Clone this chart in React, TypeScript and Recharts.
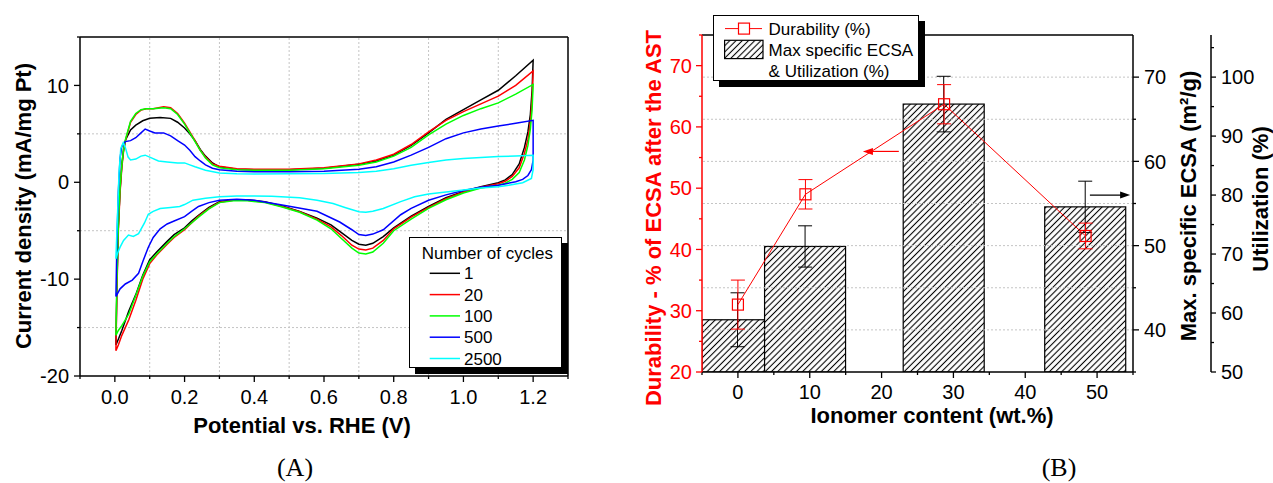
import React from "react";
import {
  ComposedChart,
  Line,
  Bar,
  XAxis,
  YAxis,
  ReferenceLine,
  ErrorBar,
} from "recharts";

const FONT = "'Liberation Sans', Arial, Helvetica, sans-serif";

// ---------- Panel A: CV curves, [potential V, current density mA/mg Pt] in sweep order
const cycleNames = ["1", "20", "100", "500", "2500"];
const cycleColors = ["#000000", "#ff0000", "#00ff00", "#0000ff", "#00ffff"];

const cycle1: [number, number][] = [
  [0.003, -16.8], [0.006, -10.5], [0.01, -4.5], [0.015, -0.8], [0.02, 1.8], [0.025, 3.4],
  [0.031, 4.4], [0.045, 5.4], [0.06, 5.9], [0.08, 6.35], [0.1, 6.6], [0.13, 6.7], [0.16, 6.6],
  [0.18, 6.2], [0.2, 5.6], [0.215, 5.0], [0.23, 4.3], [0.245, 3.4], [0.26, 2.7], [0.28, 2.0],
  [0.3, 1.6], [0.35, 1.35], [0.4, 1.3], [0.5, 1.3], [0.6, 1.45], [0.7, 1.85], [0.75, 2.2],
  [0.8, 2.8], [0.85, 3.8], [0.9, 5.1], [0.95, 6.5], [1.0, 7.5], [1.05, 8.5], [1.1, 9.5],
  [1.15, 11.0], [1.2, 12.6],
  [1.197, 9.5], [1.192, 7.0], [1.185, 5.2], [1.175, 3.6], [1.16, 1.9], [1.14, 0.8], [1.12, 0.25],
  [1.1, -0.05], [1.05, -0.45], [1.0, -0.95], [0.95, -1.6], [0.9, -2.5], [0.85, -3.5], [0.8, -4.7],
  [0.77, -5.6], [0.74, -6.3], [0.72, -6.5], [0.7, -6.4], [0.68, -6.0], [0.65, -5.2], [0.62, -4.4],
  [0.58, -3.7], [0.53, -3.0], [0.48, -2.45], [0.43, -2.0], [0.38, -1.8], [0.34, -1.8], [0.3, -2.0],
  [0.27, -2.6], [0.24, -3.4], [0.22, -4.0], [0.2, -4.7], [0.17, -5.4], [0.15, -6.1], [0.12, -7.2],
  [0.1, -8.0], [0.08, -9.6], [0.06, -11.6], [0.04, -13.3], [0.02, -15.3], [0.01, -16.2], [0.003, -16.8],
];

const cycle20: [number, number][] = [
  [0.003, -17.4], [0.006, -11], [0.01, -5], [0.015, -1], [0.02, 1.5], [0.025, 3.2], [0.031, 4.4],
  [0.045, 6.2], [0.06, 7.0], [0.075, 7.45], [0.09, 7.6], [0.11, 7.6], [0.14, 7.8], [0.16, 7.7],
  [0.18, 7.1], [0.2, 6.1], [0.215, 5.2], [0.23, 4.3], [0.245, 3.3], [0.26, 2.6], [0.28, 1.9],
  [0.3, 1.65], [0.35, 1.4], [0.4, 1.35], [0.5, 1.35], [0.6, 1.5], [0.7, 1.9], [0.75, 2.3],
  [0.8, 2.9], [0.85, 3.9], [0.9, 5.2], [0.95, 6.4], [1.0, 7.3], [1.05, 8.1], [1.1, 8.9],
  [1.15, 10.0], [1.2, 11.5],
  [1.197, 8.5], [1.192, 6.2], [1.185, 4.4], [1.175, 3.0], [1.16, 1.5], [1.14, 0.6], [1.12, 0.1],
  [1.1, -0.15], [1.05, -0.5], [1.0, -1.0], [0.95, -1.7], [0.9, -2.6], [0.85, -3.6], [0.8, -4.8],
  [0.77, -6.0], [0.74, -6.8], [0.72, -7.0], [0.7, -6.9], [0.68, -6.5], [0.65, -5.5], [0.62, -4.6],
  [0.58, -3.8], [0.53, -3.05], [0.48, -2.5], [0.43, -2.05], [0.38, -1.85], [0.34, -1.85], [0.3, -2.05],
  [0.27, -2.7], [0.24, -3.5], [0.22, -4.2], [0.2, -4.9], [0.17, -5.7], [0.15, -6.4], [0.12, -7.5],
  [0.1, -8.4], [0.08, -10.0], [0.06, -12.2], [0.04, -14.2], [0.02, -15.8], [0.01, -16.8], [0.003, -17.4],
];

const cycle100: [number, number][] = [
  [0.003, -15.8], [0.006, -10], [0.01, -4.5], [0.015, -0.5], [0.02, 1.8], [0.025, 3.4], [0.031, 4.5],
  [0.045, 6.3], [0.06, 7.1], [0.075, 7.5], [0.09, 7.6], [0.11, 7.6], [0.14, 7.7], [0.16, 7.6],
  [0.18, 7.0], [0.2, 6.0], [0.215, 5.1], [0.23, 4.2], [0.245, 3.3], [0.26, 2.5], [0.28, 1.8],
  [0.3, 1.5], [0.35, 1.3], [0.4, 1.25], [0.5, 1.25], [0.6, 1.4], [0.7, 1.75], [0.75, 2.1],
  [0.8, 2.7], [0.85, 3.6], [0.9, 4.9], [0.95, 6.0], [1.0, 6.9], [1.05, 7.6], [1.1, 8.2],
  [1.15, 9.1], [1.2, 10.1],
  [1.197, 7.5], [1.192, 5.5], [1.185, 3.8], [1.175, 2.3], [1.16, 1.0], [1.14, 0.3], [1.12, -0.1],
  [1.1, -0.3], [1.05, -0.6], [1.0, -1.1], [0.95, -1.8], [0.9, -2.7], [0.85, -3.8], [0.8, -5.0],
  [0.77, -6.3], [0.74, -7.2], [0.72, -7.4], [0.7, -7.3], [0.68, -6.8], [0.65, -5.8], [0.62, -4.8],
  [0.58, -3.9], [0.53, -3.1], [0.48, -2.55], [0.43, -2.1], [0.38, -1.9], [0.34, -1.9], [0.3, -2.1],
  [0.27, -2.75], [0.24, -3.6], [0.22, -4.2], [0.2, -4.8], [0.17, -5.6], [0.15, -6.3], [0.12, -7.4],
  [0.1, -8.2], [0.08, -9.7], [0.06, -11.7], [0.04, -13.6], [0.02, -14.8], [0.01, -15.3], [0.003, -15.8],
];

const cycle500: [number, number][] = [
  [0.003, -11.8], [0.006, -6], [0.01, -1], [0.015, 2.5], [0.02, 3.7], [0.03, 4.2], [0.045, 4.3],
  [0.06, 4.6], [0.075, 5.1], [0.087, 5.5], [0.1, 5.3], [0.115, 5.1], [0.14, 5.1], [0.16, 4.8],
  [0.18, 4.3], [0.2, 3.85], [0.215, 3.3], [0.23, 2.65], [0.245, 2.2], [0.26, 1.8], [0.28, 1.45],
  [0.3, 1.3], [0.35, 1.15], [0.4, 1.1], [0.5, 1.1], [0.6, 1.15], [0.7, 1.35], [0.75, 1.6],
  [0.8, 2.1], [0.85, 2.8], [0.9, 3.6], [0.95, 4.5], [1.0, 5.1], [1.05, 5.5], [1.1, 5.8],
  [1.15, 6.1], [1.2, 6.4],
  [1.2, 2.3], [1.195, 1.3], [1.185, 0.7], [1.17, 0.3], [1.15, 0.05], [1.1, -0.3], [1.05, -0.5],
  [1.0, -0.85], [0.95, -1.3], [0.9, -1.85], [0.85, -2.7], [0.82, -3.35], [0.77, -4.9], [0.74, -5.35],
  [0.72, -5.5], [0.7, -5.4], [0.68, -4.9], [0.645, -4.1], [0.58, -3.0], [0.48, -2.35], [0.4, -1.85],
  [0.35, -1.75], [0.3, -1.85], [0.27, -2.1], [0.24, -2.5], [0.22, -3.0], [0.2, -3.55], [0.17, -4.0],
  [0.15, -4.3], [0.13, -4.8], [0.11, -5.7], [0.096, -6.7], [0.08, -8.2], [0.068, -9.4], [0.05, -10.1],
  [0.03, -10.5], [0.015, -11.0], [0.003, -11.8],
];

const cycle2500: [number, number][] = [
  [0.003, -7.9], [0.008, -3], [0.012, 1], [0.017, 3.5], [0.024, 4.1], [0.03, 3.6], [0.038, 2.6],
  [0.045, 2.3], [0.06, 2.4], [0.075, 2.7], [0.087, 2.8], [0.1, 2.6], [0.125, 2.2], [0.15, 2.1],
  [0.18, 2.0], [0.2, 2.0], [0.215, 1.8], [0.23, 1.6], [0.26, 1.25], [0.3, 0.95], [0.35, 0.87],
  [0.4, 0.85], [0.5, 0.87], [0.6, 0.9], [0.7, 1.0], [0.75, 1.15], [0.8, 1.4], [0.85, 1.75],
  [0.9, 2.05], [0.95, 2.3], [1.0, 2.45], [1.05, 2.55], [1.1, 2.65], [1.15, 2.72], [1.2, 2.8],
  [1.2, 1.3], [1.195, 0.4], [1.17, -0.04], [1.13, -0.3], [1.1, -0.45], [1.05, -0.6], [1.0, -0.8],
  [0.95, -1.0], [0.9, -1.2], [0.86, -1.5], [0.82, -2.0], [0.77, -2.7], [0.74, -3.0], [0.72, -3.1],
  [0.7, -3.05], [0.66, -2.6], [0.626, -2.2], [0.58, -1.85], [0.53, -1.6], [0.45, -1.45], [0.39, -1.42],
  [0.35, -1.42], [0.3, -1.5], [0.26, -1.65], [0.224, -1.85], [0.2, -2.3], [0.186, -2.5], [0.16, -2.6],
  [0.13, -2.7], [0.11, -3.0], [0.096, -3.3], [0.085, -4.2], [0.068, -5.3], [0.053, -5.6], [0.039, -5.45],
  [0.025, -6.0], [0.015, -6.7], [0.008, -7.3], [0.003, -7.9],
];

const cycles = [cycle1, cycle20, cycle100, cycle500, cycle2500];

const potentialTicks = [-0.1, 0, 0.1, 0.2, 0.3, 0.4, 0.5, 0.6, 0.7, 0.8, 0.9, 1.0, 1.1, 1.2, 1.3];
const currentTicks = [-20, -15, -10, -5, 0, 5, 10, 15];
const potentialGrid = [0.1, 0.3, 0.5, 0.7, 0.9, 1.1];
const currentGrid = [-15, -5, 5];

// ---------- Panel B: ionomer content study
const ionomer = [0, 9.4, 28.7, 48.4];
const durability = [31.0, 49.0, 63.7, 42.2];
const durabilityErr = [4.0, 2.4, 3.2, 2.1];
const ecsa = [41.2, 49.9, 66.8, 54.6];
const ecsaErr = [3.2, 2.45, 3.3, 3.05];

const ionomerTicks = [-5, 0, 5, 10, 15, 20, 25, 30, 35, 40, 45, 50, 55];
const durabilityTicks = [20, 25, 30, 35, 40, 45, 50, 55, 60, 65, 70, 75];
const ecsaTicks = [35, 40, 45, 50, 55, 60, 65, 70];
const utilTicks = [50, 55, 60, 65, 70, 75, 80, 85, 90, 95, 100, 105];
const ecsaGrid = [40, 45, 50, 55, 60, 65, 70];

const barData = ionomer.map((x, i) => ({
  x,
  dur: durability[i],
  durErr: durabilityErr[i],
  ecsa: ecsa[i],
  ecsaErr: ecsaErr[i],
}));

const B_PLOT_LEFT = 62;
const BAR_W = 81;
const HATCH = 4.4;

type TickOpts = {
  side: "bottom" | "left" | "right";
  isMajor: (v: number) => boolean;
  fmt: (v: number) => string;
  color: string;
  major: number;
  minor: number;
  gap: number;
  fontSize: number;
};

const makeTick = (o: TickOpts) => (props: any) => {
  const { x, y, payload } = props;
  const v = payload.value;
  const big = o.isMajor(v);
  const len = big ? o.major : o.minor;
  if (o.side === "bottom") {
    return (
      <g>
        <line x1={x} y1={y} x2={x} y2={y + len} stroke={o.color} strokeWidth={1.3} />
        {big && (
          <text x={x} y={y + o.gap} textAnchor="middle" fontSize={o.fontSize} fontFamily={FONT} fill={o.color}>
            {o.fmt(v)}
          </text>
        )}
      </g>
    );
  }
  const dir = o.side === "left" ? -1 : 1;
  return (
    <g>
      <line x1={x} y1={y} x2={x + dir * len} y2={y} stroke={o.color} strokeWidth={1.3} />
      {big && (
        <text
          x={x + dir * (o.major + o.gap)}
          y={y}
          dy="0.36em"
          textAnchor={dir < 0 ? "end" : "start"}
          fontSize={o.fontSize}
          fontFamily={FONT}
          fill={o.color}
        >
          {o.fmt(v)}
        </text>
      )}
    </g>
  );
};

const tens = (v: number) => Math.abs(v % 10) < 1e-9;

const HatchBar = (props: any) => {
  const { x, y, width, height, index } = props;
  if (height == null || isNaN(height)) return null;
  const cx = x + width / 2;
  const left = Math.max(cx - BAR_W / 2, B_PLOT_LEFT);
  const right = cx + BAR_W / 2;
  const id = `hatch-bar-${index}`;
  return (
    <g>
      <defs>
        <pattern
          id={id}
          patternUnits="userSpaceOnUse"
          width={HATCH}
          height={HATCH}
          patternTransform={`rotate(45) translate(${index * 1.5},0)`}
        >
          <line x1={HATCH / 2} y1={0} x2={HATCH / 2} y2={HATCH} stroke="#000" strokeWidth={1.1} />
        </pattern>
      </defs>
      <rect x={left} y={y} width={right - left} height={height} fill="#fff" />
      <rect x={left} y={y} width={right - left} height={height} fill={`url(#${id})`} stroke="#000" strokeWidth={1.2} />
    </g>
  );
};

const arrowShape = (color: string) => (p: any) => {
  const { x1, y1, x2, y2 } = p;
  const dir = x2 > x1 ? 1 : -1;
  return (
    <g>
      <line x1={x1} y1={y1} x2={x2 - dir * 6} y2={y2} stroke={color} strokeWidth={1.2} />
      <polygon points={`${x2},${y2} ${x2 - dir * 10},${y2 - 3.5} ${x2 - dir * 10},${y2 + 3.5}`} fill={color} />
    </g>
  );
};

const SquareDot = (p: any) => {
  const { cx, cy, index } = p;
  if (cx == null || cy == null) return null;
  return <rect key={`sq-${index}`} x={cx - 5.5} y={cy - 5.5} width={11} height={11} fill="none" stroke="#ff0000" strokeWidth={1.2} />;
};

const axisText = (x: number, y: number, text: React.ReactNode, color = "#000", rotate = true) => () => (
  <text
    transform={rotate ? `translate(${x},${y}) rotate(-90)` : `translate(${x},${y})`}
    textAnchor="middle"
    dy="0.35em"
    fontSize={22}
    fontWeight="bold"
    fontFamily={FONT}
    fill={color}
  >
    {text}
  </text>
);

const CvPanel = () => (
  <ComposedChart width={600} height={440} margin={{ top: 37, right: 32, bottom: 0, left: 0 }}>
    <XAxis
      xAxisId={0}
      type="number"
      dataKey="v"
      domain={[-0.1, 1.3]}
      allowDataOverflow
      ticks={potentialTicks}
      interval={0}
      tickSize={0}
      tickMargin={0}
      tickLine={false}
      axisLine={{ stroke: "#000", strokeWidth: 1.5 }}
      height={64}
      tick={makeTick({
        side: "bottom",
        isMajor: (v) => Math.abs(Math.round(v * 10) % 2) === 0,
        fmt: (v) => v.toFixed(1),
        color: "#000",
        major: 6,
        minor: 3,
        gap: 28,
        fontSize: 20,
      })}
      label={{ content: axisText(302, 425, "Potential vs. RHE (V)", "#000", false) }}
    />
    <YAxis
      yAxisId={0}
      type="number"
      domain={[-20, 15]}
      allowDataOverflow
      ticks={currentTicks}
      interval={0}
      tickSize={0}
      tickMargin={0}
      tickLine={false}
      axisLine={{ stroke: "#000", strokeWidth: 1.5 }}
      width={80}
      tick={makeTick({
        side: "left",
        isMajor: tens,
        fmt: (v) => String(v),
        color: "#000",
        major: 6,
        minor: 3,
        gap: 5,
        fontSize: 20,
      })}
      label={{ content: axisText(23, 206, "Current density (mA/mg Pt)") }}
    />
    {potentialGrid.map((v) => (
      <ReferenceLine key={`gx${v}`} x={v} stroke="#c4c4c4" strokeDasharray="2 2" strokeWidth={1} />
    ))}
    {currentGrid.map((v) => (
      <ReferenceLine key={`gy${v}`} y={v} stroke="#c4c4c4" strokeDasharray="2 2" strokeWidth={1} />
    ))}
    <ReferenceLine y={15} stroke="#000" strokeWidth={1.5} />
    <ReferenceLine x={1.3} stroke="#000" strokeWidth={1.5} />
    {cycles.map((c, i) => (
      <Line
        key={cycleNames[i]}
        data={c.map(([v, j]) => ({ v, j }))}
        dataKey="j"
        type="linear"
        stroke={cycleColors[i]}
        strokeWidth={1.5}
        dot={false}
        activeDot={false}
        isAnimationActive={false}
      />
    ))}
  </ComposedChart>
);

const IonomerPanel = () => (
  <ComposedChart width={633} height={432} data={barData} margin={{ top: 35, right: 0, bottom: 0, left: 0 }}>
    <XAxis
      type="number"
      dataKey="x"
      domain={[-5, 55]}
      allowDataOverflow
      ticks={ionomerTicks}
      interval={0}
      tickSize={0}
      tickMargin={0}
      tickLine={false}
      axisLine={{ stroke: "#000", strokeWidth: 1.5 }}
      height={60}
      tick={makeTick({
        side: "bottom",
        isMajor: tens,
        fmt: (v) => String(v),
        color: "#000",
        major: 6,
        minor: 3,
        gap: 27,
        fontSize: 20,
      })}
      label={{ content: axisText(292, 415, "Ionomer content (wt.%)", "#000", false) }}
    />
    <YAxis
      yAxisId="dur"
      orientation="left"
      type="number"
      domain={[20, 75]}
      allowDataOverflow
      ticks={durabilityTicks}
      interval={0}
      tickSize={0}
      tickMargin={0}
      tickLine={false}
      axisLine={{ stroke: "#ff0000", strokeWidth: 1.5 }}
      width={62}
      tick={makeTick({
        side: "left",
        isMajor: tens,
        fmt: (v) => String(v),
        color: "#ff0000",
        major: 6,
        minor: 3,
        gap: 4,
        fontSize: 20,
      })}
      label={{ content: axisText(13, 218, "Durability - % of ECSA after the AST", "#ff0000") }}
    />
    <YAxis
      yAxisId="ecsa"
      orientation="right"
      type="number"
      domain={[35, 75]}
      allowDataOverflow
      ticks={ecsaTicks}
      interval={0}
      tickSize={0}
      tickMargin={0}
      tickLine={false}
      axisLine={{ stroke: "#000", strokeWidth: 1.5 }}
      width={78}
      tick={makeTick({
        side: "right",
        isMajor: tens,
        fmt: (v) => String(v),
        color: "#000",
        major: 6,
        minor: 3,
        gap: 5,
        fontSize: 20,
      })}
      label={{ content: axisText(548, 206, "Max. specific ECSA (m²/g)") }}
    />
    <YAxis
      yAxisId="util"
      orientation="right"
      type="number"
      domain={[50, 107.14]}
      allowDataOverflow
      ticks={utilTicks}
      interval={0}
      tickSize={0}
      tickMargin={0}
      tickLine={false}
      axisLine={{ stroke: "#000", strokeWidth: 1.5 }}
      width={62}
      tick={makeTick({
        side: "right",
        isMajor: tens,
        fmt: (v) => String(v),
        color: "#000",
        major: 5,
        minor: 3,
        gap: 5,
        fontSize: 20,
      })}
      label={{ content: axisText(620, 199, "Utilization (%)") }}
    />
    {ecsaGrid.map((v) => (
      <ReferenceLine key={`eg${v}`} yAxisId="ecsa" y={v} stroke="#c4c4c4" strokeDasharray="2 2" strokeWidth={1} />
    ))}
    <ReferenceLine yAxisId="dur" y={75} stroke="#000" strokeWidth={1.5} />
    <Bar yAxisId="ecsa" dataKey="ecsa" barSize={BAR_W} shape={HatchBar} isAnimationActive={false}>
      <ErrorBar dataKey="ecsaErr" width={7} stroke="#000" strokeWidth={1} direction="y" />
    </Bar>
    <Line
      yAxisId="dur"
      dataKey="dur"
      type="linear"
      stroke="#ff0000"
      strokeWidth={1}
      dot={SquareDot}
      activeDot={false}
      isAnimationActive={false}
    >
      <ErrorBar dataKey="durErr" width={7} stroke="#ff0000" strokeWidth={1} direction="y" />
    </Line>
    <ReferenceLine
      yAxisId="dur"
      segment={[{ x: 22.4, y: 56 }, { x: 17.4, y: 56 }]}
      stroke="#ff0000"
      shape={arrowShape("#ff0000")}
    />
    <ReferenceLine
      yAxisId="ecsa"
      segment={[{ x: 49.0, y: 56 }, { x: 54.6, y: 56 }]}
      stroke="#000"
      shape={arrowShape("#000")}
    />
  </ComposedChart>
);

const boxStyle: React.CSSProperties = {
  position: "absolute",
  background: "#fff",
  border: "1px solid #000",
  boxShadow: "6px 6px 0 #000",
  boxSizing: "border-box",
};

const svgFill: React.CSSProperties = { position: "absolute", left: 0, top: 0, overflow: "visible" };

const CvLegend = () => (
  <div style={{ ...boxStyle, left: 409, top: 237, width: 153, height: 131 }}>
    <svg width={151} height={129} style={svgFill}>
      <text x={11.7} y={21} fontSize={17} fontFamily={FONT} fill="#000">
        Number of cycles
      </text>
      {cycleNames.map((n, i) => {
        const cy = 35.3 + i * 21.3;
        return (
          <g key={n}>
            <line x1={19.7} y1={cy} x2={50} y2={cy} stroke={cycleColors[i]} strokeWidth={1.5} />
            <text x={54} y={cy + 6} fontSize={17} fontFamily={FONT} fill="#000">
              {n}
            </text>
          </g>
        );
      })}
    </svg>
  </div>
);

const IonomerLegend = () => (
  <div style={{ ...boxStyle, left: 713, top: 15, width: 206, height: 66 }}>
    <svg width={204} height={64} style={svgFill}>
      <defs>
        <pattern id="legend-hatch" patternUnits="userSpaceOnUse" width={HATCH} height={HATCH} patternTransform="rotate(45)">
          <line x1={HATCH / 2} y1={0} x2={HATCH / 2} y2={HATCH} stroke="#000" strokeWidth={1.1} />
        </pattern>
      </defs>
      <line x1={11} y1={12.6} x2={48} y2={12.6} stroke="#ff0000" strokeWidth={1} />
      <rect x={24.5} y={7.1} width={11} height={11} fill="#fff" stroke="#ff0000" strokeWidth={1.2} />
      <text x={54.6} y={18.6} fontSize={17} fontFamily={FONT} fill="#000">
        Durability (%)
      </text>
      <rect x={10.6} y={24.3} width={38.4} height={18.3} fill="url(#legend-hatch)" stroke="#000" strokeWidth={1.2} />
      <text x={54.6} y={39.6} fontSize={17} fontFamily={FONT} fill="#000">
        Max specific ECSA
      </text>
      <text x={54.6} y={60.5} fontSize={17} fontFamily={FONT} fill="#000">
        &amp; Utilization (%)
      </text>
    </svg>
  </div>
);

const App = () => (
  <div style={{ position: "absolute", left: 0, top: 0, width: 1273, height: 483, background: "#fff", overflow: "hidden" }}>
    <div style={{ position: "absolute", left: 0, top: 0 }}>
      <CvPanel />
    </div>
    <div style={{ position: "absolute", left: 640, top: 0 }}>
      <IonomerPanel />
    </div>
    <CvLegend />
    <IonomerLegend />
    <svg width={1273} height={483} style={{ position: "absolute", left: 0, top: 0, pointerEvents: "none" }}>
      <text x={295} y={476} textAnchor="middle" fontSize={26} fontFamily="'Liberation Serif', 'Times New Roman', serif">
        (A)
      </text>
      <text x={1059} y={476} textAnchor="middle" fontSize={26} fontFamily="'Liberation Serif', 'Times New Roman', serif">
        (B)
      </text>
    </svg>
  </div>
);

export default App;
